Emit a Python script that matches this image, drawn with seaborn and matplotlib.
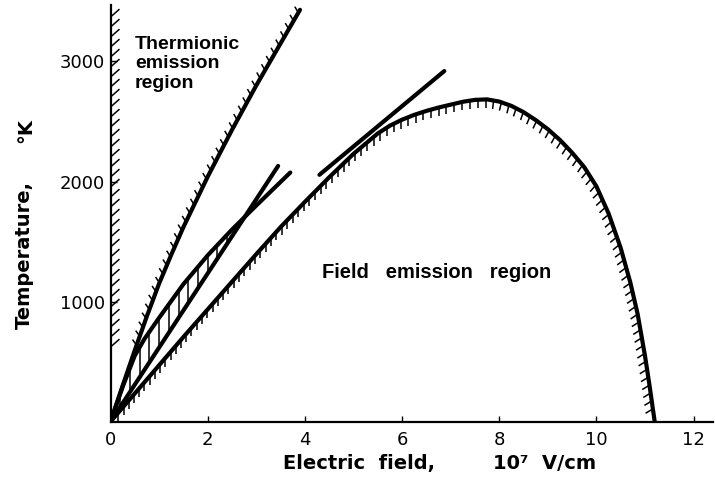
import numpy as np
import seaborn as sns
import matplotlib.pyplot as plt
from matplotlib.collections import LineCollection

# Electric field in units of 1e7 V/cm, temperature in K
thermionic_E = [0.0, 0.25, 0.5, 0.75, 1.0, 1.25, 1.5, 2.0, 2.5, 3.0, 3.5, 3.9]
thermionic_T = [0, 300, 595, 880, 1150, 1390, 1620, 2040, 2430, 2800, 3150, 3430]

band_upper_E = [0.0, 0.25, 0.5, 0.7, 1.0, 1.5, 2.0, 2.5, 3.0, 3.7]
band_upper_T = [0, 290, 550, 690, 865, 1145, 1385, 1600, 1800, 2075]

band_lower_E = [0.0, 3.45]
band_lower_T = [0, 2130]

field_E = [0.0, 0.5, 1.0, 1.5, 2.0, 2.5, 3.0, 3.5, 4.0, 4.5, 5.0, 5.5, 5.75,
           6.0, 6.25, 6.5, 6.75, 7.0, 7.25, 7.5, 7.75, 8.0, 8.25, 8.5, 8.75,
           9.0, 9.25, 9.5, 9.75, 10.0, 10.25, 10.5, 10.6, 10.7, 10.8, 10.85,
           10.95, 11.0, 11.05, 11.1, 11.15, 11.2]
field_T = [0, 235, 470, 705, 935, 1165, 1395, 1620, 1830, 2035, 2230, 2400,
           2465, 2515, 2555, 2588, 2616, 2640, 2664, 2680, 2684, 2666, 2630,
           2578, 2512, 2436, 2346, 2240, 2120, 1960, 1735, 1447, 1302, 1157,
           982, 894, 664, 549, 417, 284, 142, 0]

tangent_E = [4.3, 6.87]
tangent_T = [2056, 2920]

axis_hatch_T = [580, 3440]

x_ticks = [0, 2, 4, 6, 8, 10, 12]
y_ticks = [1000, 2000, 3000]

sns.set_style("ticks")
plt.rcParams["font.family"] = ["DejaVu Sans"]

W, H = 715, 486
fig = plt.figure(figsize=(W / 100, H / 100), dpi=100)
x0, y0, x1, y1 = 110.5, 421.7, 713.0, 5.0
ax = fig.add_axes([x0 / W, (H - y0) / H, (x1 - x0) / W, (y0 - y1) / H])
ax.set_xlim(0, 12.4)
ax.set_ylim(0, 3470)

curve_kw = dict(color="black", linewidth=3.0, estimator=None, sort=False,
                solid_capstyle="round", solid_joinstyle="round", legend=False)
for E, T in [(thermionic_E, thermionic_T), (band_upper_E, band_upper_T),
             (band_lower_E, band_lower_T), (field_E, field_T),
             (tangent_E, tangent_T)]:
    sns.lineplot(x=E, y=T, ax=ax, **curve_kw)


def hatch_marks(E, T, spacing, length, direction, tmin=None, lw=1.0):
    """Short strokes along a boundary, laid out in pixel space."""
    pts = ax.transData.transform(np.column_stack([E, T]).astype(float))
    seg = np.diff(pts, axis=0)
    seglen = np.hypot(seg[:, 0], seg[:, 1])
    s = np.concatenate([[0.0], np.cumsum(seglen)])
    ss = np.arange(spacing * 0.5, s[-1], spacing)
    px = np.interp(ss, s, pts[:, 0])
    py = np.interp(ss, s, pts[:, 1])
    idx = np.clip(np.searchsorted(s, ss, side="right") - 1, 0, len(seg) - 1)
    t = seg[idx] / seglen[idx][:, None]
    d = direction(t)
    d = d / np.linalg.norm(d, axis=1)[:, None]
    p0 = np.column_stack([px, py])
    p1 = p0 + d * length
    inv = ax.transData.inverted()
    segs = []
    for a, b in zip(p0, p1):
        da, db = inv.transform(np.array([a, b]))
        if tmin is not None and da[1] < tmin:
            continue
        segs.append([da, db])
    ax.add_collection(LineCollection(segs, colors="black", linewidths=lw))


def below_dir(t):
    n = np.column_stack([t[:, 1], -t[:, 0]])
    return np.column_stack([np.minimum(n[:, 0], 0.0), n[:, 1] - 0.45])


def upper_left_dir(t):
    n = np.column_stack([-t[:, 1], t[:, 0]])
    return n + np.array([0.0, 1.0])


def axis_dir(t):
    return np.tile([0.75, 0.66], (len(t), 1))


hatch_marks(field_E, field_T, 8.0, 8.5, below_dir, tmin=60, lw=1.1)
hatch_marks(thermionic_E, thermionic_T, 9.5, 7.0, upper_left_dir, tmin=600, lw=1.1)
hatch_marks([0.0, 0.0], axis_hatch_T, 10.0, 12.0, axis_dir, lw=1.1)

# vertical shading inside the narrow band
band_x = np.arange(0.2, 2.9, 0.2)
lo = np.interp(band_x, band_lower_E, band_lower_T)
hi = np.interp(band_x, band_upper_E, band_upper_T)
keep = hi > lo + 20
ax.vlines(band_x[keep], lo[keep], hi[keep], colors="black", linewidth=1.1)

for side in ["top", "right"]:
    ax.spines[side].set_visible(False)
for side in ["left", "bottom"]:
    ax.spines[side].set_linewidth(1.6)
    ax.spines[side].set_color("black")

ax.set_xticks(x_ticks)
ax.set_xticklabels([str(v) for v in x_ticks])
ax.set_yticks(y_ticks)
ax.set_yticklabels([str(v) for v in y_ticks])
ax.tick_params(axis="both", direction="in", length=4, width=1.0,
               colors="black", labelsize=13)
ax.tick_params(axis="x", pad=7)
ax.tick_params(axis="y", pad=4)

bold = dict(fontweight="bold", color="black")
ax.text(0.50, 3214, "Thermionic\nemission\nregion", ha="left", va="top",
        family=["Liberation Sans"], fontsize=14, linespacing=1.2, **bold)
ax.text(4.35, 1239, "Field   emission   region", ha="left", va="center",
        family=["Liberation Sans"], fontsize=14.5, **bold)

fig.text(24 / W, (H - 255) / H, "Temperature,", rotation=90, ha="center",
         va="center", fontsize=14, **bold)
fig.text(26 / W, (H - 131) / H, "°K", rotation=90, ha="center",
         va="center", fontsize=14, **bold)
fig.text(283 / W, (H - 463) / H, "Electric  field,", ha="left",
         va="center", fontsize=14, **bold)
fig.text(493 / W, (H - 463) / H, "10⁷  V/cm", ha="left",
         va="center", fontsize=14, **bold)

fig.savefig("out.png", dpi=100, facecolor="white")
